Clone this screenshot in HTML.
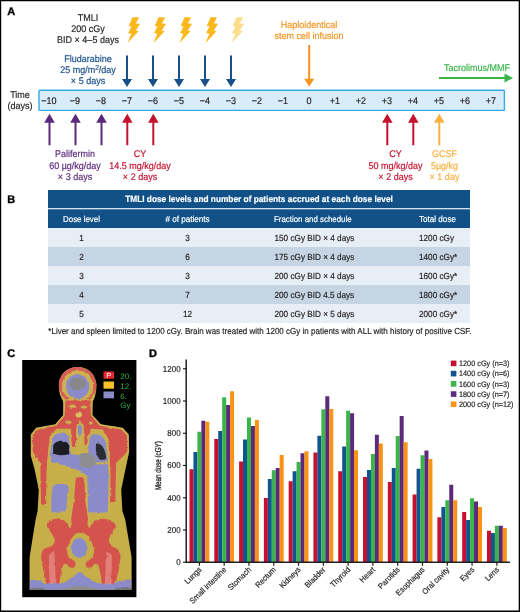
<!DOCTYPE html>
<html lang="en"><head><meta charset="utf-8"><title>TMLI dose escalation figure</title>
<style>html,body{margin:0;padding:0;background:#fff}body{width:520px;height:612px;overflow:hidden;font-family:"Liberation Sans", sans-serif}</style>
</head><body>
<svg width="520" height="612" viewBox="0 0 520 612" font-family='"Liberation Sans", sans-serif' text-rendering="geometricPrecision" style="display:block">
<rect x="0" y="0" width="520" height="612" fill="#fff"/>
<path d="M0 0H520V612H0Z M1.2 1.2V610.5H518.7V1.2Z" fill="#000" fill-rule="evenodd"/>
<text transform="translate(7.2,14.9) scale(1.0000,1)" font-size="11.00" fill="#000" stroke="#000" stroke-width="0.35" text-anchor="start" font-weight="bold">A</text>
<text transform="translate(88,21.2) scale(0.9259,1)" font-size="9.72" fill="#231f20" stroke="#231f20" stroke-width="0.18" text-anchor="middle">TMLI</text>
<text transform="translate(88,32.2) scale(0.9259,1)" font-size="9.72" fill="#231f20" stroke="#231f20" stroke-width="0.18" text-anchor="middle">200 cGy</text>
<text transform="translate(88,43.2) scale(0.9259,1)" font-size="9.72" fill="#231f20" stroke="#231f20" stroke-width="0.18" text-anchor="middle">BID × 4–5 days</text>
<text transform="translate(88,61.9) scale(0.9259,1)" font-size="9.72" fill="#174f8a" stroke="#174f8a" stroke-width="0.18" text-anchor="middle">Fludarabine</text>
<text transform="translate(88,73.2) scale(0.9259,1)" font-size="9.72" fill="#174f8a" stroke="#174f8a" stroke-width="0.18" text-anchor="middle">25 mg/m<tspan font-size="7.2" dy="-3.4">2</tspan><tspan dy="3.4">/day</tspan></text>
<text transform="translate(88,84.4) scale(0.9259,1)" font-size="9.72" fill="#174f8a" stroke="#174f8a" stroke-width="0.18" text-anchor="middle">× 5 days</text>
<polygon points="132.5,17.2 139.0,17.2 135.9,23.6 140.1,23.8 135.6,30.8 138.8,31.0 127.5,42.9 131.3,33.7 128.1,33.1 131.5,26.2 128.7,26.2" fill="#fbb81c"/>
<polygon points="158.5,17.2 165.0,17.2 161.9,23.6 166.1,23.8 161.6,30.8 164.8,31.0 153.5,42.9 157.3,33.7 154.1,33.1 157.5,26.2 154.7,26.2" fill="#fbb81c"/>
<polygon points="184.5,17.2 191.0,17.2 187.9,23.6 192.1,23.8 187.6,30.8 190.8,31.0 179.5,42.9 183.3,33.7 180.1,33.1 183.5,26.2 180.7,26.2" fill="#fbb81c"/>
<polygon points="210.5,17.2 217.0,17.2 213.9,23.6 218.1,23.8 213.6,30.8 216.8,31.0 205.5,42.9 209.3,33.7 206.1,33.1 209.5,26.2 206.7,26.2" fill="#fbb81c"/>
<polygon points="236.5,17.2 243.0,17.2 239.9,23.6 244.1,23.8 239.6,30.8 242.8,31.0 231.5,42.9 235.3,33.7 232.1,33.1 235.5,26.2 232.7,26.2" fill="#fddc8c"/>
<path d="M126.0 55.5H128.0V79H132L127 87L122 79H126.0Z" fill="#174f8a"/>
<path d="M152.0 55.5H154.0V79H158L153 87L148 79H152.0Z" fill="#174f8a"/>
<path d="M178.0 55.5H180.0V79H184L179 87L174 79H178.0Z" fill="#174f8a"/>
<path d="M204.0 55.5H206.0V79H210L205 87L200 79H204.0Z" fill="#174f8a"/>
<path d="M230.0 55.5H232.0V79H236L231 87L226 79H230.0Z" fill="#174f8a"/>
<path d="M308.2 45H310.2V78.7H314.3L309.2 86.4L304.09999999999997 78.7H308.2Z" fill="#f7931e"/>
<text transform="translate(309,27.7) scale(0.9259,1)" font-size="9.72" fill="#f7931e" stroke="#f7931e" stroke-width="0.18" text-anchor="middle">Haploidentical</text>
<text transform="translate(309,38.7) scale(0.9259,1)" font-size="9.72" fill="#f7931e" stroke="#f7931e" stroke-width="0.18" text-anchor="middle">stem cell infusion</text>
<path d="M439 77H504.5V73.5L513 78L504.5 82.5V79H439Z" fill="#3ab54a"/>
<text transform="translate(477,71.2) scale(0.9259,1)" font-size="9.72" fill="#3ab54a" stroke="#3ab54a" stroke-width="0.18" text-anchor="middle">Tacrolimus/MMF</text>
<rect x="39" y="90.2" width="465.4" height="20.2" rx="0.8" fill="#d8edf9" stroke="#35abe2" stroke-width="1.4"/>
<text transform="translate(49,104.1) scale(0.9259,1)" font-size="9.72" fill="#231f20" stroke="#231f20" stroke-width="0.18" text-anchor="middle">−10</text>
<text transform="translate(75,104.1) scale(0.9259,1)" font-size="9.72" fill="#231f20" stroke="#231f20" stroke-width="0.18" text-anchor="middle">−9</text>
<text transform="translate(101,104.1) scale(0.9259,1)" font-size="9.72" fill="#231f20" stroke="#231f20" stroke-width="0.18" text-anchor="middle">−8</text>
<text transform="translate(127,104.1) scale(0.9259,1)" font-size="9.72" fill="#231f20" stroke="#231f20" stroke-width="0.18" text-anchor="middle">−7</text>
<text transform="translate(153,104.1) scale(0.9259,1)" font-size="9.72" fill="#231f20" stroke="#231f20" stroke-width="0.18" text-anchor="middle">−6</text>
<text transform="translate(179,104.1) scale(0.9259,1)" font-size="9.72" fill="#231f20" stroke="#231f20" stroke-width="0.18" text-anchor="middle">−5</text>
<text transform="translate(205,104.1) scale(0.9259,1)" font-size="9.72" fill="#231f20" stroke="#231f20" stroke-width="0.18" text-anchor="middle">−4</text>
<text transform="translate(231,104.1) scale(0.9259,1)" font-size="9.72" fill="#231f20" stroke="#231f20" stroke-width="0.18" text-anchor="middle">−3</text>
<text transform="translate(257,104.1) scale(0.9259,1)" font-size="9.72" fill="#231f20" stroke="#231f20" stroke-width="0.18" text-anchor="middle">−2</text>
<text transform="translate(283,104.1) scale(0.9259,1)" font-size="9.72" fill="#231f20" stroke="#231f20" stroke-width="0.18" text-anchor="middle">−1</text>
<text transform="translate(309,104.1) scale(0.9259,1)" font-size="9.72" fill="#231f20" stroke="#231f20" stroke-width="0.18" text-anchor="middle">0</text>
<text transform="translate(335,104.1) scale(0.9259,1)" font-size="9.72" fill="#231f20" stroke="#231f20" stroke-width="0.18" text-anchor="middle">+1</text>
<text transform="translate(361,104.1) scale(0.9259,1)" font-size="9.72" fill="#231f20" stroke="#231f20" stroke-width="0.18" text-anchor="middle">+2</text>
<text transform="translate(387,104.1) scale(0.9259,1)" font-size="9.72" fill="#231f20" stroke="#231f20" stroke-width="0.18" text-anchor="middle">+3</text>
<text transform="translate(413,104.1) scale(0.9259,1)" font-size="9.72" fill="#231f20" stroke="#231f20" stroke-width="0.18" text-anchor="middle">+4</text>
<text transform="translate(439,104.1) scale(0.9259,1)" font-size="9.72" fill="#231f20" stroke="#231f20" stroke-width="0.18" text-anchor="middle">+5</text>
<text transform="translate(465,104.1) scale(0.9259,1)" font-size="9.72" fill="#231f20" stroke="#231f20" stroke-width="0.18" text-anchor="middle">+6</text>
<text transform="translate(491,104.1) scale(0.9259,1)" font-size="9.72" fill="#231f20" stroke="#231f20" stroke-width="0.18" text-anchor="middle">+7</text>
<text transform="translate(20,98.3) scale(0.9259,1)" font-size="9.72" fill="#231f20" stroke="#231f20" stroke-width="0.18" text-anchor="middle">Time</text>
<text transform="translate(20,108.9) scale(0.9259,1)" font-size="9.72" fill="#231f20" stroke="#231f20" stroke-width="0.18" text-anchor="middle">(days)</text>
<path d="M49.5 113.8L54.8 122.8H50.5V145.3H48.5V122.8H44.2Z" fill="#5b2a7d"/>
<path d="M75.5 113.8L80.8 122.8H76.5V145.3H74.5V122.8H70.2Z" fill="#5b2a7d"/>
<path d="M101.5 113.8L106.8 122.8H102.5V145.3H100.5V122.8H96.2Z" fill="#5b2a7d"/>
<path d="M127.3 113.8L132.6 122.8H128.3V145.3H126.3V122.8H122.0Z" fill="#c4122f"/>
<path d="M153.3 113.8L158.60000000000002 122.8H154.3V145.3H152.3V122.8H148.0Z" fill="#c4122f"/>
<path d="M387.3 113.8L392.6 122.8H388.3V145.3H386.3V122.8H382.0Z" fill="#c4122f"/>
<path d="M413.3 113.8L418.6 122.8H414.3V145.3H412.3V122.8H408.0Z" fill="#c4122f"/>
<path d="M439.3 113.8L444.6 122.8H440.3V145.3H438.3V122.8H434.0Z" fill="#fbb040"/>
<text transform="translate(75,157.4) scale(0.9259,1)" font-size="9.72" fill="#5b2a7d" stroke="#5b2a7d" stroke-width="0.18" text-anchor="middle">Palifermin</text>
<text transform="translate(75,168.6) scale(0.9259,1)" font-size="9.72" fill="#5b2a7d" stroke="#5b2a7d" stroke-width="0.18" text-anchor="middle">60 µg/kg/day</text>
<text transform="translate(75,179.6) scale(0.9259,1)" font-size="9.72" fill="#5b2a7d" stroke="#5b2a7d" stroke-width="0.18" text-anchor="middle">× 3 days</text>
<text transform="translate(140,157.4) scale(0.9259,1)" font-size="9.72" fill="#c4122f" stroke="#c4122f" stroke-width="0.18" text-anchor="middle">CY</text>
<text transform="translate(140,168.6) scale(0.9259,1)" font-size="9.72" fill="#c4122f" stroke="#c4122f" stroke-width="0.18" text-anchor="middle">14.5 mg/kg/day</text>
<text transform="translate(140,179.6) scale(0.9259,1)" font-size="9.72" fill="#c4122f" stroke="#c4122f" stroke-width="0.18" text-anchor="middle">× 2 days</text>
<text transform="translate(395.5,157.4) scale(0.9259,1)" font-size="9.72" fill="#c4122f" stroke="#c4122f" stroke-width="0.18" text-anchor="middle">CY</text>
<text transform="translate(395.5,168.6) scale(0.9259,1)" font-size="9.72" fill="#c4122f" stroke="#c4122f" stroke-width="0.18" text-anchor="middle">50 mg/kg/day</text>
<text transform="translate(395.5,179.6) scale(0.9259,1)" font-size="9.72" fill="#c4122f" stroke="#c4122f" stroke-width="0.18" text-anchor="middle">× 2 days</text>
<text transform="translate(444.5,157.4) scale(0.9259,1)" font-size="9.72" fill="#fbb040" stroke="#fbb040" stroke-width="0.18" text-anchor="middle">GCSF</text>
<text transform="translate(444.5,168.6) scale(0.9259,1)" font-size="9.72" fill="#fbb040" stroke="#fbb040" stroke-width="0.18" text-anchor="middle">5µg/kg</text>
<text transform="translate(444.5,179.6) scale(0.9259,1)" font-size="9.72" fill="#fbb040" stroke="#fbb040" stroke-width="0.18" text-anchor="middle">× 1 day</text>
<text transform="translate(7.2,202.8) scale(1.0000,1)" font-size="11.00" fill="#000" stroke="#000" stroke-width="0.35" text-anchor="start" font-weight="bold">B</text>
<rect x="48" y="190" width="422" height="18" fill="#115187"/>
<rect x="48" y="208" width="422" height="1.3" fill="#cfe0ee"/>
<rect x="48" y="209.3" width="422" height="18.7" fill="#115187"/>
<text transform="translate(259,201.8) scale(0.9259,1)" font-size="8.96" fill="#fff" stroke="#fff" stroke-width="0.18" text-anchor="middle" font-weight="bold">TMLI dose levels and number of patients accrued at each dose level</text>
<text transform="translate(81.5,221.5) scale(0.9259,1)" font-size="8.53" fill="#fff" stroke="#fff" stroke-width="0.18" text-anchor="middle">Dose level</text>
<text transform="translate(187.5,221.5) scale(0.9259,1)" font-size="8.75" fill="#fff" stroke="#fff" stroke-width="0.18" text-anchor="middle"># of patients</text>
<text transform="translate(274,221.5) scale(0.9259,1)" font-size="8.53" fill="#fff" stroke="#fff" stroke-width="0.18" text-anchor="start">Fraction and schedule</text>
<text transform="translate(419,221.5) scale(0.9259,1)" font-size="8.75" fill="#fff" stroke="#fff" stroke-width="0.18" text-anchor="start">Total dose</text>
<rect x="48" y="228" width="422" height="19" fill="#e8eef5"/>
<text transform="translate(81.5,240.6) scale(0.9259,1)" font-size="8.86" fill="#231f20" stroke="#231f20" stroke-width="0.18" text-anchor="middle">1</text>
<text transform="translate(187.5,240.6) scale(0.9259,1)" font-size="8.86" fill="#231f20" stroke="#231f20" stroke-width="0.18" text-anchor="middle">3</text>
<text transform="translate(274.5,240.6) scale(0.9259,1)" font-size="8.86" fill="#231f20" stroke="#231f20" stroke-width="0.18" text-anchor="start">150 cGy BID × 4 days</text>
<text transform="translate(419,240.6) scale(0.9259,1)" font-size="8.86" fill="#231f20" stroke="#231f20" stroke-width="0.18" text-anchor="start">1200 cGy</text>
<rect x="48" y="247" width="422" height="19" fill="#c6d5e3"/>
<text transform="translate(81.5,259.6) scale(0.9259,1)" font-size="8.86" fill="#231f20" stroke="#231f20" stroke-width="0.18" text-anchor="middle">2</text>
<text transform="translate(187.5,259.6) scale(0.9259,1)" font-size="8.86" fill="#231f20" stroke="#231f20" stroke-width="0.18" text-anchor="middle">6</text>
<text transform="translate(274.5,259.6) scale(0.9259,1)" font-size="8.86" fill="#231f20" stroke="#231f20" stroke-width="0.18" text-anchor="start">175 cGy BID × 4 days</text>
<text transform="translate(419,259.6) scale(0.9259,1)" font-size="8.86" fill="#231f20" stroke="#231f20" stroke-width="0.18" text-anchor="start">1400 cGy*</text>
<rect x="48" y="266" width="422" height="19" fill="#e8eef5"/>
<text transform="translate(81.5,278.6) scale(0.9259,1)" font-size="8.86" fill="#231f20" stroke="#231f20" stroke-width="0.18" text-anchor="middle">3</text>
<text transform="translate(187.5,278.6) scale(0.9259,1)" font-size="8.86" fill="#231f20" stroke="#231f20" stroke-width="0.18" text-anchor="middle">3</text>
<text transform="translate(274.5,278.6) scale(0.9259,1)" font-size="8.86" fill="#231f20" stroke="#231f20" stroke-width="0.18" text-anchor="start">200 cGy BID × 4 days</text>
<text transform="translate(419,278.6) scale(0.9259,1)" font-size="8.86" fill="#231f20" stroke="#231f20" stroke-width="0.18" text-anchor="start">1600 cGy*</text>
<rect x="48" y="285" width="422" height="19" fill="#c6d5e3"/>
<text transform="translate(81.5,297.6) scale(0.9259,1)" font-size="8.86" fill="#231f20" stroke="#231f20" stroke-width="0.18" text-anchor="middle">4</text>
<text transform="translate(187.5,297.6) scale(0.9259,1)" font-size="8.86" fill="#231f20" stroke="#231f20" stroke-width="0.18" text-anchor="middle">7</text>
<text transform="translate(274.5,297.6) scale(0.9259,1)" font-size="8.86" fill="#231f20" stroke="#231f20" stroke-width="0.18" text-anchor="start">200 cGy BID 4.5 days</text>
<text transform="translate(419,297.6) scale(0.9259,1)" font-size="8.86" fill="#231f20" stroke="#231f20" stroke-width="0.18" text-anchor="start">1800 cGy*</text>
<rect x="48" y="304" width="422" height="19" fill="#e8eef5"/>
<text transform="translate(81.5,316.6) scale(0.9259,1)" font-size="8.86" fill="#231f20" stroke="#231f20" stroke-width="0.18" text-anchor="middle">5</text>
<text transform="translate(187.5,316.6) scale(0.9259,1)" font-size="8.86" fill="#231f20" stroke="#231f20" stroke-width="0.18" text-anchor="middle">12</text>
<text transform="translate(274.5,316.6) scale(0.9259,1)" font-size="8.86" fill="#231f20" stroke="#231f20" stroke-width="0.18" text-anchor="start">200 cGy BID × 5 days</text>
<text transform="translate(419,316.6) scale(0.9259,1)" font-size="8.86" fill="#231f20" stroke="#231f20" stroke-width="0.18" text-anchor="start">2000 cGy*</text>
<text transform="translate(48.3,333.7) scale(0.9259,1)" font-size="8.67" fill="#231f20" stroke="#231f20" stroke-width="0.18" text-anchor="start">*Liver and spleen limited to 1200 cGy. Brain was treated with 1200 cGy in patients with ALL with history of positive CSF.</text>
<text transform="translate(7.2,356.6) scale(1.0000,1)" font-size="11.00" fill="#000" stroke="#000" stroke-width="0.35" text-anchor="start" font-weight="bold">C</text>
<g id="panelC">
<rect x="22.2" y="360" width="114.2" height="237.2" fill="#000"/>
<defs>
<filter id="bl" x="-5%" y="-5%" width="110%" height="110%"><feTurbulence type="fractalNoise" baseFrequency="0.09" numOctaves="2" seed="7" result="n"/><feDisplacementMap in="SourceGraphic" in2="n" scale="7" xChannelSelector="R" yChannelSelector="G" result="d"/><feGaussianBlur in="d" stdDeviation="0.9"/></filter>
<filter id="bl0" x="-5%" y="-5%" width="110%" height="110%"><feGaussianBlur stdDeviation="0.9"/></filter>
<clipPath id="cb"><path d="M144 30C172 30 191 50 191 76C191 98 186 108 182 116L181 150L202 173L257 182L272 199L273 242L264 284L253 337L256 390L263 411L279 505V592H24V505L39 411L44 390L47 337L36 284L27 252V199L40 182L88 173L108 150L108 116C104 108 97 98 97 76C97 50 116 30 144 30Z"/></clipPath>
<clipPath id="cc"><rect x="8" y="14" width="282" height="573"/></clipPath>
</defs>
<g transform="translate(20,355) scale(0.4)" clip-path="url(#cc)">
<g filter="url(#bl0)"><path d="M144 30C172 30 191 50 191 76C191 98 186 108 182 116L181 150L202 173L257 182L272 199L273 242L264 284L253 337L256 390L263 411L279 505V592H24V505L39 411L44 390L47 337L36 284L27 252V199L40 182L88 173L108 150L108 116C104 108 97 98 97 76C97 50 116 30 144 30Z" fill="#c6ae4a"/></g>
<g clip-path="url(#cb)"><g filter="url(#bl)">
<!-- head rings -->
<ellipse cx="144" cy="76" rx="47" ry="46" fill="#d85a56"/>
<ellipse cx="144" cy="77" rx="39" ry="38" fill="#cbb150"/>
<ellipse cx="144" cy="79" rx="29" ry="31" fill="#8b8bca"/>
<ellipse cx="144" cy="72" rx="21" ry="16" fill="#88888a"/>
<!-- red: neck, shoulders, arms, lateral stripes -->
<path d="M112 112H178L179 150L200 175L255 185L269 200L270 240L262 252L242 270L240 369H223L222 292L221 262L219 210L206 188L178 186L176 226L160 226L158 190L150 168L142 190L142 231L127 231L126 186L92 186L76 204L70 262L68 292L67 374H51L49 270L36 252L30 240V200L42 185L90 175L110 150Z" fill="#d5524e" stroke="#c9b04e" stroke-width="3.5"/>
<!-- trachea area -->
<ellipse cx="132" cy="128" rx="9" ry="4" fill="#c9b04e"/><ellipse cx="160" cy="130" rx="8" ry="4" fill="#c9b04e"/><ellipse cx="120" cy="168" rx="6" ry="4" fill="#c9b04e"/><ellipse cx="176" cy="170" rx="6" ry="4" fill="#c9b04e"/>
<ellipse cx="147" cy="150" rx="8" ry="6" fill="#d8c05e"/>
<path d="M141 175C143 168 157 168 159 175L160 236L176 240L171 252H128L126 240L141 236Z" fill="#c9b04e"/>
<ellipse cx="150" cy="189" rx="5" ry="15" fill="#8b8bca"/>
<!-- lungs / central / right abdomen blue with yellow outline -->
<path d="M77 212C84 189 116 186 124 204L130 246L222 246L222 268L224 300L222 396H168L166 304L150 292L110 278L76 270C72 252 73 232 78 218Z" fill="#8b8bca" stroke="#c9b04e" stroke-width="5"/>
<path d="M172 202C186 188 212 196 218 222L222 270L176 272L168 246Z" fill="#8b8bca" stroke="#c9b04e" stroke-width="5"/>
<path d="M83 226C91 210 117 211 123 226L123 247C108 253 92 251 83 245Z" fill="#1c1c20"/>
<path d="M190 222C204 218 214 236 216 262L200 262C192 254 188 240 190 222Z" fill="#2c2c30"/>
<path d="M146 250C160 240 190 246 192 266C186 282 160 286 150 278Z" fill="#8e8e92"/>
<!-- left abdomen blue -->
<path d="M80 326C96 316 120 318 124 330L116 392L78 396C75 380 76 345 80 326Z" fill="#8b8bca" stroke="#c9b04e" stroke-width="4"/>
<!-- spine -->
<path d="M137 312C140 300 160 300 163 312L165 362L172 410L169 436L128 436L126 410L133 362Z" fill="#d5524e" stroke="#c9b04e" stroke-width="4"/>
<!-- pelvis -->
<path d="M132.7 424.1C125.5 425.5 127.5 434.1 124.1 432.7C120.7 431.2 117.8 419.2 112.5 415.4C107.2 411.5 99.0 409.6 92.3 409.6C85.6 409.6 76.1 412.0 72.1 415.4C68.1 418.8 67.1 425.0 68.1 429.8C69.1 434.6 74.8 438.9 77.9 444.2C81.0 449.5 86.0 456.3 86.5 461.6C87.0 466.9 85.1 472.2 80.8 476.0C76.5 479.8 65.2 480.3 60.6 484.6C56.0 488.9 53.8 494.7 53.1 501.9C52.4 509.1 54.8 518.8 56.5 527.9C58.2 537.0 61.4 548.6 63.5 556.8C65.6 565.0 63.9 573.6 69.2 577.0C74.5 580.4 89.9 581.3 95.2 577.0C100.5 572.7 99.1 559.2 101.0 551.0C102.9 542.8 104.3 532.7 106.7 527.9C109.1 523.1 112.5 521.6 115.4 522.1C118.3 522.6 120.7 529.3 124.1 530.8C127.5 532.2 133.2 532.7 135.6 530.8C138.0 528.9 139.5 522.7 138.5 519.3C137.5 515.9 132.7 513.0 129.8 510.6C126.9 508.2 123.1 508.7 121.2 504.8C119.3 500.9 117.8 493.8 118.3 487.5C118.8 481.2 121.2 473.6 124.1 467.3C127.0 461.1 131.5 453.9 135.6 450.0C139.7 446.1 143.6 444.2 148.9 444.2C154.2 444.2 162.3 446.1 167.3 450.0C172.3 453.9 176.0 461.1 178.9 467.3C181.8 473.6 184.1 481.2 184.6 487.5C185.1 493.8 183.7 500.9 181.8 504.8C179.9 508.7 176.0 508.2 173.1 510.6C170.2 513.0 165.4 515.9 164.4 519.3C163.4 522.7 164.9 528.9 167.3 530.8C169.7 532.7 175.5 532.2 178.9 530.8C182.3 529.3 184.6 522.6 187.5 522.1C190.4 521.6 193.8 523.1 196.2 527.9C198.6 532.7 200.0 542.8 201.9 551.0C203.8 559.2 202.4 572.7 207.7 577.0C213.0 581.3 227.9 580.4 233.7 577.0C239.5 573.6 239.9 565.0 242.3 556.8C244.7 548.6 246.7 537.0 248.1 527.9C249.5 518.8 252.0 509.1 251.0 501.9C250.0 494.7 246.2 488.9 242.3 484.6C238.5 480.3 231.3 479.8 227.9 476.0C224.5 472.2 221.6 466.9 222.1 461.6C222.6 456.3 227.9 449.5 230.8 444.2C233.7 438.9 239.5 434.6 239.5 429.8C239.5 425.0 236.1 418.8 230.8 415.4C225.5 412.0 215.4 409.6 207.7 409.6C200.0 409.6 190.4 411.5 184.6 415.4C178.8 419.2 176.0 431.2 173.1 432.7C170.2 434.1 174.0 425.5 167.3 424.1C160.6 422.7 139.9 422.7 132.7 424.1Z" fill="#d5524e"/>
<!-- femoral highlights -->
<path d="M72 500L86 492L90 576L74 576Z" fill="#e58e88" opacity=".75"/>
<path d="M216 492L230 500L228 576L212 576Z" fill="#e58e88" opacity=".75"/>
<rect x="70" y="572" width="24" height="10" fill="#e6d262"/>
<rect x="208" y="572" width="24" height="10" fill="#e6d262"/>
<!-- bladder -->
<ellipse cx="148" cy="482" rx="20" ry="25" fill="#8b8bca"/>
<!-- bottom blue -->
<path d="M24 564C40 560 55 566 66 572L98 572C110 569 120 566 128 560C136 552 142 543 150 543C158 543 164 552 172 560C180 566 190 569 204 572L236 572C248 566 262 560 279 564V590H24Z" fill="#8b8bca"/>
<path d="M98 590C120 574 180 574 202 590Z" fill="#8e8e92"/>
<path d="M24 582H62V590H24Z" fill="#75757b"/>
<path d="M238 582H279V590H238Z" fill="#75757b"/>
</g></g>
</g>
<!-- legend in image -->
<rect x="103.5" y="371.5" width="10.5" height="7.3" fill="#e8252b"/>
<text x="108.7" y="378" font-size="7.5" fill="#fff" text-anchor="middle">P</text>
<rect x="103.5" y="381.5" width="10.5" height="7.2" fill="#f9c22b"/>
<rect x="103.5" y="391.5" width="10.5" height="6.8" fill="#8b8bca"/>
<text x="120.3" y="379" font-size="8" fill="#2fb24c">20.</text>
<text x="120.3" y="388.7" font-size="8" fill="#2fb24c">12.</text>
<text x="120.3" y="398.5" font-size="8" fill="#2fb24c">6.</text>
<text x="120.3" y="408" font-size="8" fill="#2fb24c">Gy</text>
</g>

<text transform="translate(149.1,356.6) scale(1.0000,1)" font-size="11.00" fill="#000" stroke="#000" stroke-width="0.35" text-anchor="start" font-weight="bold">D</text>
<rect x="189.50" y="469.25" width="4.00" height="92.75" fill="#c8102e"/>
<rect x="193.45" y="452.00" width="4.00" height="110.00" fill="#10558f"/>
<rect x="197.40" y="431.75" width="4.00" height="130.25" fill="#39b54a"/>
<rect x="201.35" y="420.75" width="4.00" height="141.25" fill="#5b2a7d"/>
<rect x="205.30" y="421.75" width="4.00" height="140.25" fill="#fa9214"/>
<rect x="214.29" y="439.00" width="4.00" height="123.00" fill="#c8102e"/>
<rect x="218.24" y="431.00" width="4.00" height="131.00" fill="#10558f"/>
<rect x="222.19" y="397.25" width="4.00" height="164.75" fill="#39b54a"/>
<rect x="226.14" y="405.00" width="4.00" height="157.00" fill="#5b2a7d"/>
<rect x="230.09" y="391.25" width="4.00" height="170.75" fill="#fa9214"/>
<rect x="239.08" y="461.50" width="4.00" height="100.50" fill="#c8102e"/>
<rect x="243.03" y="439.50" width="4.00" height="122.50" fill="#10558f"/>
<rect x="246.98" y="417.50" width="4.00" height="144.50" fill="#39b54a"/>
<rect x="250.93" y="426.00" width="4.00" height="136.00" fill="#5b2a7d"/>
<rect x="254.88" y="420.00" width="4.00" height="142.00" fill="#fa9214"/>
<rect x="263.87" y="498.00" width="4.00" height="64.00" fill="#c8102e"/>
<rect x="267.82" y="479.00" width="4.00" height="83.00" fill="#10558f"/>
<rect x="271.77" y="470.25" width="4.00" height="91.75" fill="#39b54a"/>
<rect x="275.72" y="468.00" width="4.00" height="94.00" fill="#5b2a7d"/>
<rect x="279.67" y="455.00" width="4.00" height="107.00" fill="#fa9214"/>
<rect x="288.66" y="481.25" width="4.00" height="80.75" fill="#c8102e"/>
<rect x="292.61" y="471.25" width="4.00" height="90.75" fill="#10558f"/>
<rect x="296.56" y="462.00" width="4.00" height="100.00" fill="#39b54a"/>
<rect x="300.51" y="453.25" width="4.00" height="108.75" fill="#5b2a7d"/>
<rect x="304.46" y="451.25" width="4.00" height="110.75" fill="#fa9214"/>
<rect x="313.45" y="452.50" width="4.00" height="109.50" fill="#c8102e"/>
<rect x="317.40" y="435.75" width="4.00" height="126.25" fill="#10558f"/>
<rect x="321.35" y="409.25" width="4.00" height="152.75" fill="#39b54a"/>
<rect x="325.30" y="396.25" width="4.00" height="165.75" fill="#5b2a7d"/>
<rect x="329.25" y="409.00" width="4.00" height="153.00" fill="#fa9214"/>
<rect x="338.24" y="471.25" width="4.00" height="90.75" fill="#c8102e"/>
<rect x="342.19" y="446.50" width="4.00" height="115.50" fill="#10558f"/>
<rect x="346.14" y="410.75" width="4.00" height="151.25" fill="#39b54a"/>
<rect x="350.09" y="413.25" width="4.00" height="148.75" fill="#5b2a7d"/>
<rect x="354.04" y="450.25" width="4.00" height="111.75" fill="#fa9214"/>
<rect x="363.03" y="477.00" width="4.00" height="85.00" fill="#c8102e"/>
<rect x="366.98" y="470.00" width="4.00" height="92.00" fill="#10558f"/>
<rect x="370.93" y="454.00" width="4.00" height="108.00" fill="#39b54a"/>
<rect x="374.88" y="434.75" width="4.00" height="127.25" fill="#5b2a7d"/>
<rect x="378.83" y="443.50" width="4.00" height="118.50" fill="#fa9214"/>
<rect x="387.82" y="482.00" width="4.00" height="80.00" fill="#c8102e"/>
<rect x="391.77" y="468.00" width="4.00" height="94.00" fill="#10558f"/>
<rect x="395.72" y="436.00" width="4.00" height="126.00" fill="#39b54a"/>
<rect x="399.67" y="416.00" width="4.00" height="146.00" fill="#5b2a7d"/>
<rect x="403.62" y="442.25" width="4.00" height="119.75" fill="#fa9214"/>
<rect x="412.61" y="494.50" width="4.00" height="67.50" fill="#c8102e"/>
<rect x="416.56" y="468.75" width="4.00" height="93.25" fill="#10558f"/>
<rect x="420.51" y="455.25" width="4.00" height="106.75" fill="#39b54a"/>
<rect x="424.46" y="450.50" width="4.00" height="111.50" fill="#5b2a7d"/>
<rect x="428.41" y="459.00" width="4.00" height="103.00" fill="#fa9214"/>
<rect x="437.40" y="517.25" width="4.00" height="44.75" fill="#c8102e"/>
<rect x="441.35" y="507.00" width="4.00" height="55.00" fill="#10558f"/>
<rect x="445.30" y="500.25" width="4.00" height="61.75" fill="#39b54a"/>
<rect x="449.25" y="484.75" width="4.00" height="77.25" fill="#5b2a7d"/>
<rect x="453.20" y="500.25" width="4.00" height="61.75" fill="#fa9214"/>
<rect x="462.19" y="512.00" width="4.00" height="50.00" fill="#c8102e"/>
<rect x="466.14" y="520.00" width="4.00" height="42.00" fill="#10558f"/>
<rect x="470.09" y="498.25" width="4.00" height="63.75" fill="#39b54a"/>
<rect x="474.04" y="501.50" width="4.00" height="60.50" fill="#5b2a7d"/>
<rect x="477.99" y="507.00" width="4.00" height="55.00" fill="#fa9214"/>
<rect x="486.98" y="530.75" width="4.00" height="31.25" fill="#c8102e"/>
<rect x="490.93" y="533.00" width="4.00" height="29.00" fill="#10558f"/>
<rect x="494.88" y="525.75" width="4.00" height="36.25" fill="#39b54a"/>
<rect x="498.83" y="525.75" width="4.00" height="36.25" fill="#5b2a7d"/>
<rect x="502.78" y="528.00" width="4.00" height="34.00" fill="#fa9214"/>
<path d="M186.2 359.5V562.3H510" fill="none" stroke="#231f20" stroke-width="1.5"/>
<path d="M183 562.25H186.5" stroke="#231f20" stroke-width="1.2"/>
<text transform="translate(180.6,565.15) scale(0.9259,1)" font-size="8.64" fill="#231f20" stroke="#231f20" stroke-width="0.18" text-anchor="end">0</text>
<path d="M183 530.00H186.5" stroke="#231f20" stroke-width="1.2"/>
<text transform="translate(180.6,532.9) scale(0.9259,1)" font-size="8.64" fill="#231f20" stroke="#231f20" stroke-width="0.18" text-anchor="end">200</text>
<path d="M183 497.75H186.5" stroke="#231f20" stroke-width="1.2"/>
<text transform="translate(180.6,500.65) scale(0.9259,1)" font-size="8.64" fill="#231f20" stroke="#231f20" stroke-width="0.18" text-anchor="end">400</text>
<path d="M183 465.50H186.5" stroke="#231f20" stroke-width="1.2"/>
<text transform="translate(180.6,468.4) scale(0.9259,1)" font-size="8.64" fill="#231f20" stroke="#231f20" stroke-width="0.18" text-anchor="end">600</text>
<path d="M183 433.25H186.5" stroke="#231f20" stroke-width="1.2"/>
<text transform="translate(180.6,436.15) scale(0.9259,1)" font-size="8.64" fill="#231f20" stroke="#231f20" stroke-width="0.18" text-anchor="end">800</text>
<path d="M183 401.00H186.5" stroke="#231f20" stroke-width="1.2"/>
<text transform="translate(180.6,403.9) scale(0.9259,1)" font-size="8.64" fill="#231f20" stroke="#231f20" stroke-width="0.18" text-anchor="end">1000</text>
<path d="M183 368.75H186.5" stroke="#231f20" stroke-width="1.2"/>
<text transform="translate(180.6,371.65) scale(0.9259,1)" font-size="8.64" fill="#231f20" stroke="#231f20" stroke-width="0.18" text-anchor="end">1200</text>
<path d="M199.38 562V565.8" stroke="#231f20" stroke-width="1.2"/>
<text transform="translate(202.07,570.2) rotate(-45) scale(0.9259,1)" font-size="7.99" fill="#231f20" stroke="#231f20" stroke-width="0.18" text-anchor="end">Lungs</text>
<path d="M224.16 562V565.8" stroke="#231f20" stroke-width="1.2"/>
<text transform="translate(226.86,570.2) rotate(-45) scale(0.9259,1)" font-size="7.99" fill="#231f20" stroke="#231f20" stroke-width="0.18" text-anchor="end">Small intestine</text>
<path d="M248.95 562V565.8" stroke="#231f20" stroke-width="1.2"/>
<text transform="translate(251.65,570.2) rotate(-45) scale(0.9259,1)" font-size="7.99" fill="#231f20" stroke="#231f20" stroke-width="0.18" text-anchor="end">Stomach</text>
<path d="M273.75 562V565.8" stroke="#231f20" stroke-width="1.2"/>
<text transform="translate(276.44,570.2) rotate(-45) scale(0.9259,1)" font-size="7.99" fill="#231f20" stroke="#231f20" stroke-width="0.18" text-anchor="end">Rectum</text>
<path d="M298.53 562V565.8" stroke="#231f20" stroke-width="1.2"/>
<text transform="translate(301.23,570.2) rotate(-45) scale(0.9259,1)" font-size="7.99" fill="#231f20" stroke="#231f20" stroke-width="0.18" text-anchor="end">Kidneys</text>
<path d="M323.32 562V565.8" stroke="#231f20" stroke-width="1.2"/>
<text transform="translate(326.02,570.2) rotate(-45) scale(0.9259,1)" font-size="7.99" fill="#231f20" stroke="#231f20" stroke-width="0.18" text-anchor="end">Bladder</text>
<path d="M348.12 562V565.8" stroke="#231f20" stroke-width="1.2"/>
<text transform="translate(350.81,570.2) rotate(-45) scale(0.9259,1)" font-size="7.99" fill="#231f20" stroke="#231f20" stroke-width="0.18" text-anchor="end">Thyroid</text>
<path d="M372.90 562V565.8" stroke="#231f20" stroke-width="1.2"/>
<text transform="translate(375.6,570.2) rotate(-45) scale(0.9259,1)" font-size="7.99" fill="#231f20" stroke="#231f20" stroke-width="0.18" text-anchor="end">Heart</text>
<path d="M397.69 562V565.8" stroke="#231f20" stroke-width="1.2"/>
<text transform="translate(400.39,570.2) rotate(-45) scale(0.9259,1)" font-size="7.99" fill="#231f20" stroke="#231f20" stroke-width="0.18" text-anchor="end">Parotids</text>
<path d="M422.49 562V565.8" stroke="#231f20" stroke-width="1.2"/>
<text transform="translate(425.19,570.2) rotate(-45) scale(0.9259,1)" font-size="7.99" fill="#231f20" stroke="#231f20" stroke-width="0.18" text-anchor="end">Esophagus</text>
<path d="M447.27 562V565.8" stroke="#231f20" stroke-width="1.2"/>
<text transform="translate(449.97,570.2) rotate(-45) scale(0.9259,1)" font-size="7.99" fill="#231f20" stroke="#231f20" stroke-width="0.18" text-anchor="end">Oral cavity</text>
<path d="M472.06 562V565.8" stroke="#231f20" stroke-width="1.2"/>
<text transform="translate(474.76,570.2) rotate(-45) scale(0.9259,1)" font-size="7.99" fill="#231f20" stroke="#231f20" stroke-width="0.18" text-anchor="end">Eyes</text>
<path d="M496.86 562V565.8" stroke="#231f20" stroke-width="1.2"/>
<text transform="translate(499.56,570.2) rotate(-45) scale(0.9259,1)" font-size="7.99" fill="#231f20" stroke="#231f20" stroke-width="0.18" text-anchor="end">Lens</text>
<text transform="translate(160.7,465.7) rotate(-90) scale(0.725,1)" font-size="8.6" fill="#231f20" stroke="#231f20" stroke-width="0.3" text-anchor="middle">Mean dose (cGY)</text>
<rect x="450.8" y="360.60" width="5.6" height="5.6" fill="#c8102e"/>
<text transform="translate(459,366.1) scale(0.9259,1)" font-size="7.88" fill="#231f20" stroke="#231f20" stroke-width="0.18" text-anchor="start">1200 cGy (n=3)</text>
<rect x="450.8" y="370.82" width="5.6" height="5.6" fill="#10558f"/>
<text transform="translate(459,376.32) scale(0.9259,1)" font-size="7.88" fill="#231f20" stroke="#231f20" stroke-width="0.18" text-anchor="start">1400 cGy (n=6)</text>
<rect x="450.8" y="381.04" width="5.6" height="5.6" fill="#39b54a"/>
<text transform="translate(459,386.54) scale(0.9259,1)" font-size="7.88" fill="#231f20" stroke="#231f20" stroke-width="0.18" text-anchor="start">1600 cGy (n=3)</text>
<rect x="450.8" y="391.26" width="5.6" height="5.6" fill="#5b2a7d"/>
<text transform="translate(459,396.76) scale(0.9259,1)" font-size="7.88" fill="#231f20" stroke="#231f20" stroke-width="0.18" text-anchor="start">1800 cGy (n=7)</text>
<rect x="450.8" y="401.48" width="5.6" height="5.6" fill="#fa9214"/>
<text transform="translate(459,406.98) scale(0.9259,1)" font-size="7.88" fill="#231f20" stroke="#231f20" stroke-width="0.18" text-anchor="start">2000 cGy (n=12)</text>
</svg>
</body></html>
